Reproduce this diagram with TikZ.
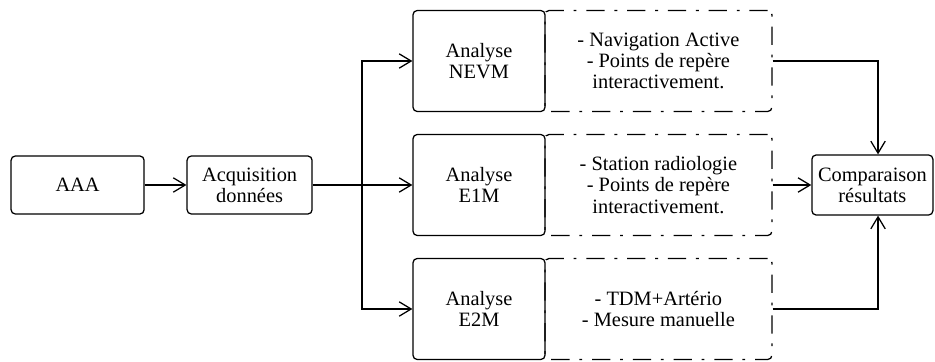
\documentclass[tikz,border=0pt]{standalone}
\usepackage{fontspec}
\setmainfont{Liberation Serif}[Scale=1.0]
\usetikzlibrary{arrows.meta,positioning}

\begin{document}
\begin{tikzpicture}[>={Straight Barb[length=3mm,width=3.6mm]},font=\fontsize{14.5}{15}\selectfont,line width=0.9pt]
\tikzstyle{b}=[draw,rounded corners=3pt,align=center,inner sep=2pt]
\tikzstyle{an}=[b,minimum width=3.3cm,minimum height=2.525cm]
\tikzstyle{dd}=[b,minimum width=5.675cm,minimum height=2.525cm,dash pattern=on 13pt off 7pt on 2pt off 7pt]
\useasboundingbox (0,0) rectangle (23.375,9.025);
\node[b,minimum width=3.325cm,minimum height=1.45cm] (aaa) at (1.94,4.4) {AAA};
\node[b,minimum width=3.125cm,minimum height=1.45cm] (acq) at (6.24,4.4) {Acquisition\\données};
\coordinate (split) at (9.05,4.4);
\foreach \i/\y/\n/\t in {nevm/7.5/NEVM/{- Navigation Active\\- Points de repère\\interactivement.},e1m/4.4/E1M/{- Station radiologie\\- Points de repère\\interactivement.},e2m/1.3/E2M/{- TDM+Artério\\- Mesure manuelle}} {
  \node[an] (a\i) at (11.975,\y) {Analyse\\\n};
  \node[dd] (d\i) at (16.46,\y) {\t};
}
\node[b,minimum width=3.025cm,minimum height=1.5cm] (comp) at (21.81,4.4) {Comparaison\\résultats};
\draw[->] (aaa) -- (acq); \draw (acq) -- (split);
\draw[->] (split) -- (ae1m); \draw[->] (split) |- (anevm); \draw[->] (split) |- (ae2m);
\draw[->] (dnevm) -| ([xshift=4pt]comp.north);
\draw[->] (de1m) -- (comp);
\draw[->] (de2m) -| ([xshift=4pt]comp.south);
\end{tikzpicture}
\end{document}
